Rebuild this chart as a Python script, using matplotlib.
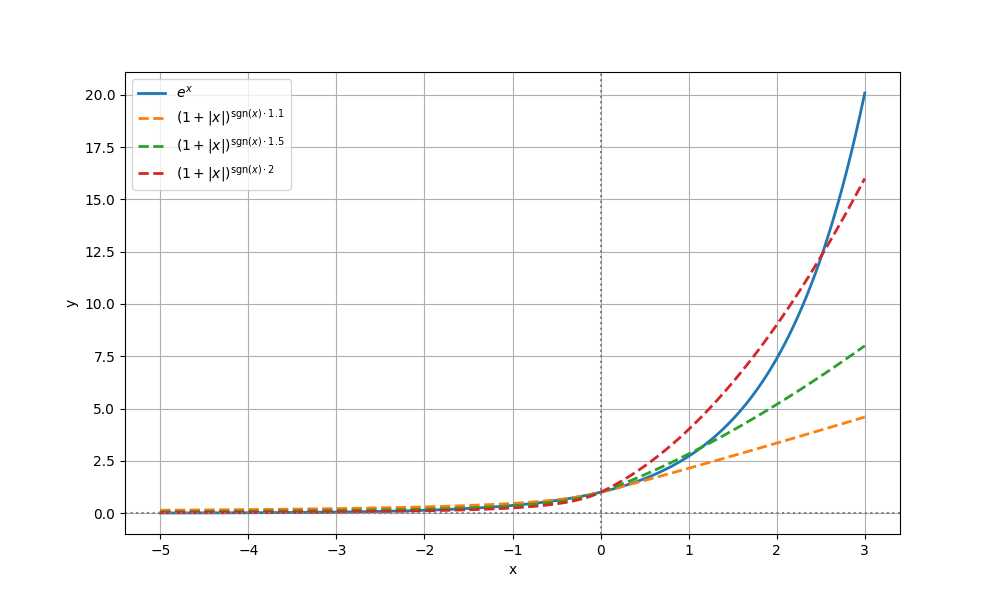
import numpy as np
import matplotlib
matplotlib.use("Agg")
import matplotlib.pyplot as plt

# x range and exponents shown in the legend
x_min, x_max = -5, 3
exponentes = [1.1, 1.5, 2]
colores = ["tab:orange", "tab:green", "tab:red"]

x = np.linspace(x_min, x_max, 800)

plt.figure(figsize=(10, 6))
plt.plot(x, np.exp(x), color="tab:blue", linewidth=2, label=r"$e^x$")
for p, c in zip(exponentes, colores):
    y = (1 + np.abs(x)) ** (np.sign(x) * p)
    plt.plot(x, y, linestyle="--", color=c, linewidth=2,
             label=r"$(1+|x|)^{\mathrm{sgn}(x)\cdot %s}$" % p)

plt.axhline(0, color="gray", linestyle=":", linewidth=1.5)
plt.axvline(0, color="gray", linestyle=":", linewidth=1.5)
plt.xlabel("x")
plt.ylabel("y")
plt.legend(loc="upper left")
plt.grid(True)
plt.savefig("out.png", dpi=100)
